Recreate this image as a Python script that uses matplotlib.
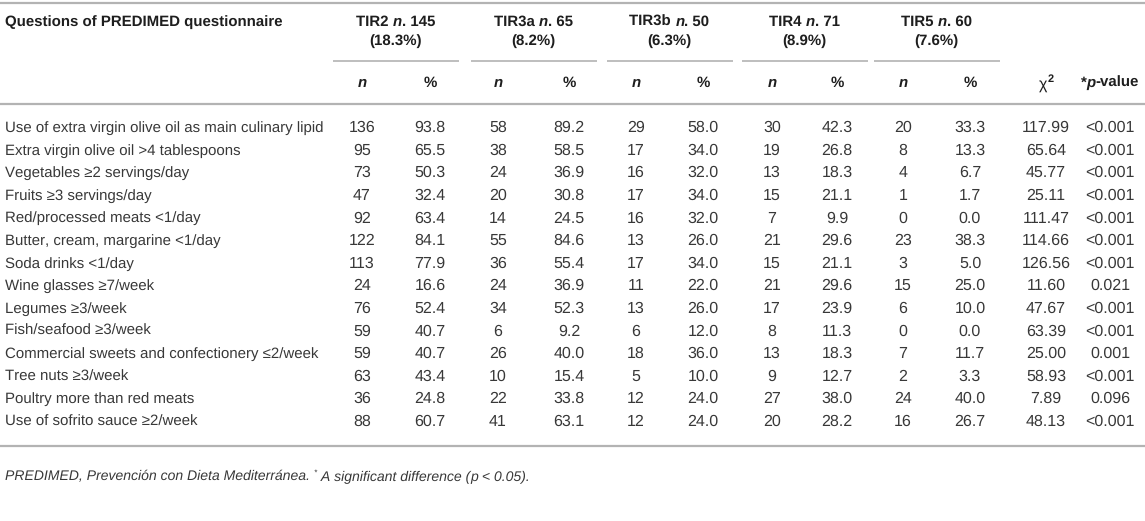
import matplotlib
matplotlib.use("Agg")
import matplotlib.pyplot as plt

plt.rcParams['font.family'] = ['Liberation Sans', 'DejaVu Sans']
plt.rcParams['text.hinting'] = 'no_hinting'
plt.rcParams['text.hinting_factor'] = 1

# ---------------- data ----------------
questions = [
    "Use of extra virgin olive oil as main culinary lipid",
    "Extra virgin olive oil >4 tablespoons",
    "Vegetables ≥2 servings/day",
    "Fruits ≥3 servings/day",
    "Red/processed meats <1/day",
    "Butter, cream, margarine <1/day",
    "Soda drinks <1/day",
    "Wine glasses ≥7/week",
    "Legumes ≥3/week",
    "Fish/seafood ≥3/week",
    "Commercial sweets and confectionery ≤2/week",
    "Tree nuts ≥3/week",
    "Poultry more than red meats",
    "Use of sofrito sauce ≥2/week",
]
groups = ["TIR2", "TIR3a", "TIR3b", "TIR4", "TIR5"]
group_n = [145, 65, 50, 71, 60]
group_pct = ["18.3%", "8.2%", "6.3%", "8.9%", "7.6%"]

tir2_n = [136, 95, 73, 47, 92, 122, 113, 24, 76, 59, 59, 63, 36, 88]
tir2_p = [93.8, 65.5, 50.3, 32.4, 63.4, 84.1, 77.9, 16.6, 52.4, 40.7, 40.7, 43.4, 24.8, 60.7]
tir3a_n = [58, 38, 24, 20, 14, 55, 36, 24, 34, 6, 26, 10, 22, 41]
tir3a_p = [89.2, 58.5, 36.9, 30.8, 24.5, 84.6, 55.4, 36.9, 52.3, 9.2, 40.0, 15.4, 33.8, 63.1]
tir3b_n = [29, 17, 16, 17, 16, 13, 17, 11, 13, 6, 18, 5, 12, 12]
tir3b_p = [58.0, 34.0, 32.0, 34.0, 32.0, 26.0, 34.0, 22.0, 26.0, 12.0, 36.0, 10.0, 24.0, 24.0]
tir4_n = [30, 19, 13, 15, 7, 21, 15, 21, 17, 8, 13, 9, 27, 20]
tir4_p = [42.3, 26.8, 18.3, 21.1, 9.9, 29.6, 21.1, 29.6, 23.9, 11.3, 18.3, 12.7, 38.0, 28.2]
tir5_n = [20, 8, 4, 1, 0, 23, 3, 15, 6, 0, 7, 2, 24, 16]
tir5_p = [33.3, 13.3, 6.7, 1.7, 0.0, 38.3, 5.0, 25.0, 10.0, 0.0, 11.7, 3.3, 40.0, 26.7]
chi2 = [117.99, 65.64, 45.77, 25.11, 111.47, 114.66, 126.56, 11.60, 47.67, 63.39,
        25.00, 58.93, 7.89, 48.13]
p_values = ["<0.001", "<0.001", "<0.001", "<0.001", "<0.001", "<0.001", "<0.001",
            "0.021", "<0.001", "<0.001", "0.001", "<0.001", "0.096", "<0.001"]

# ---------------- layout ----------------
W, H = 1145, 521
fig = plt.figure(figsize=(W / 100, H / 100), dpi=100)
ax = fig.add_axes([0, 0, 1, 1])
ax.set_xlim(0, W)
ax.set_ylim(H, 0)
ax.axis('off')
renderer = fig.canvas.get_renderer()

TXT = '#383838'
HDR = '#1e1e1e'
RULE = '#b3b3b3'
FS_LAB = 10.7
FS_NUM = 11.2
FS_HDR = 11.0
FS_FOOT = 9.9

n_x = [362, 498, 636, 772, 903]
p_x = [430, 569, 703, 837, 970]
chi_x = 1046
pv_x = 1110
label_x = 5

y_top = 3
y_h1, y_h2 = 22, 41
y_sub = 61
y_np = 83
y_rule2 = 104
y_row0 = 128
row_h = 22.6
y_bottom = 446
y_foot = 477


def rich(x, y, parts, size=FS_HDR, color=HDR, ha='center'):
    texts = []
    for s, w, st, sz, dy in parts:
        t = ax.text(0, y + dy, s, fontsize=sz or size, fontweight=w, fontstyle=st,
                    va='center', ha='left', color=color)
        texts.append(t)
    widths = [t.get_window_extent(renderer).width for t in texts]
    total = sum(widths)
    cur = x - total / 2 if ha == 'center' else x
    for t, w in zip(texts, widths):
        t.set_x(cur)
        cur += w
    return texts


# rules
for yy in (y_top, y_rule2, y_bottom):
    ax.plot([0, W], [yy, yy], color=RULE, lw=1.6, solid_capstyle='butt')
for i in range(len(groups)):
    c = (n_x[i] + p_x[i]) / 2
    ax.plot([c - 63, c + 63], [y_sub, y_sub], color=RULE, lw=1.2, solid_capstyle='butt')

# header
ax.text(label_x, y_h1, "Questions of PREDIMED questionnaire", fontsize=FS_HDR,
        fontweight='bold', va='center', ha='left', color=HDR)
for i, g in enumerate(groups):
    c = (n_x[i] + p_x[i]) / 2
    rich(c, y_h1, [(g + " ", 'bold', 'normal', None, 0), ("n", 'bold', 'italic', None, 0),
                   (". %d" % group_n[i], 'bold', 'normal', None, 0)])
    ax.text(c, y_h2, "(%s)" % group_pct[i], fontsize=FS_HDR, fontweight='bold',
            va='center', ha='center', color=HDR)
    ax.text(n_x[i], y_np, "n", fontsize=FS_HDR, fontweight='bold', fontstyle='italic',
            va='center', ha='center', color=HDR)
    ax.text(p_x[i], y_np, "%", fontsize=FS_HDR, fontweight='bold',
            va='center', ha='center', color=HDR)
rich(chi_x, y_np, [("χ", 'normal', 'normal', FS_HDR + 0.5, 2),
                   ("2", 'bold', 'normal', FS_HDR * 0.72, -4)])
rich(pv_x, y_np, [("*", 'bold', 'normal', None, 0), ("p", 'bold', 'italic', None, 0),
                  ("-value", 'bold', 'normal', None, 0)])

# body
ns = [tir2_n, tir3a_n, tir3b_n, tir4_n, tir5_n]
ps = [tir2_p, tir3a_p, tir3b_p, tir4_p, tir5_p]
for r, q in enumerate(questions):
    y = y_row0 + r * row_h
    ax.text(label_x, y, q, fontsize=FS_LAB, va='center', ha='left', color=TXT)
    for g in range(len(groups)):
        ax.text(n_x[g], y, str(ns[g][r]), fontsize=FS_NUM, va='center', ha='center', color=TXT)
        ax.text(p_x[g], y, "%.1f" % ps[g][r], fontsize=FS_NUM, va='center', ha='center', color=TXT)
    ax.text(chi_x, y, "%.2f" % chi2[r], fontsize=FS_NUM, va='center', ha='center', color=TXT)
    ax.text(pv_x, y, p_values[r], fontsize=FS_NUM, va='center', ha='center', color=TXT)

# footnote
rich(label_x, y_foot, [("PREDIMED, Prevención con Dieta Mediterránea. ", 'normal', 'italic', None, 0),
                       ("*", 'normal', 'italic', FS_FOOT * 0.6, -4),
                       (" A significant difference (", 'normal', 'italic', None, 0),
                       ("p", 'normal', 'italic', None, 0),
                       (" < 0.05).", 'normal', 'italic', None, 0)],
     size=FS_FOOT, color=TXT, ha='left')

fig.savefig("out.png", dpi=100)
